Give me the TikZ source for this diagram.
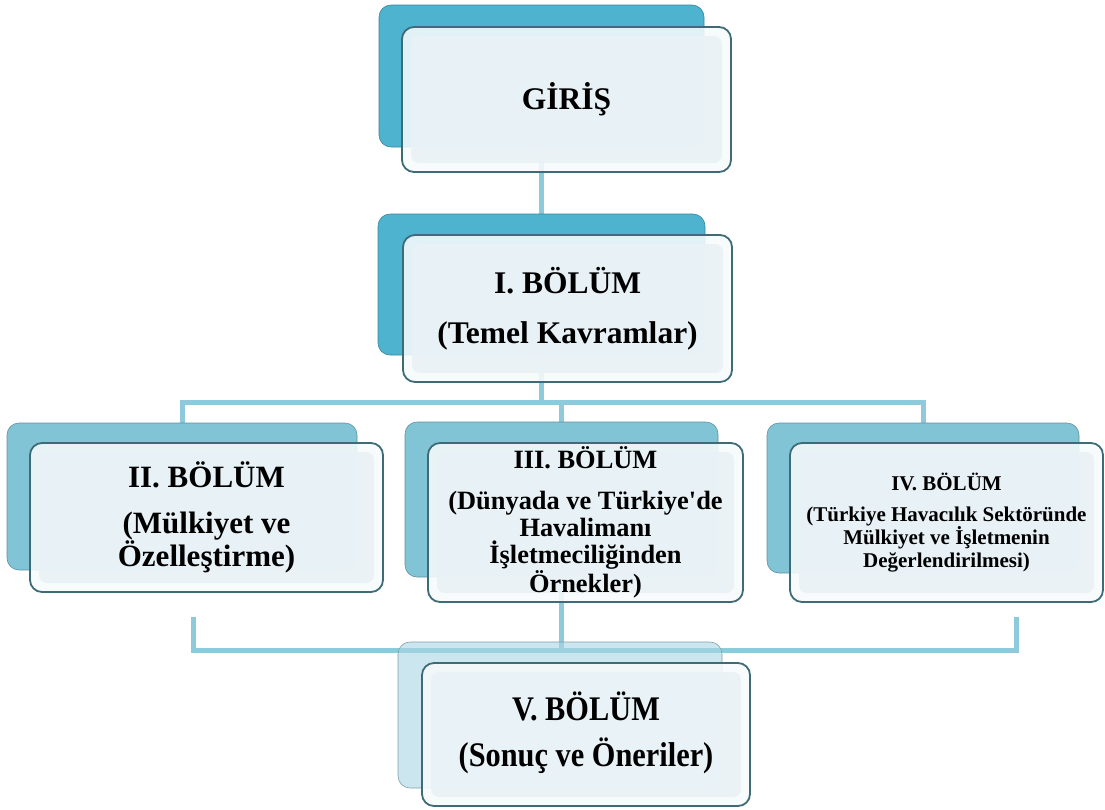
\documentclass[tikz,border=0pt]{standalone}
\usepackage{fontspec}
\setmainfont{Liberation Serif}[Ligatures=TeXOff]
\usepackage{graphicx}
\definecolor{lineC}{HTML}{8ECADB}
\definecolor{bkA}{HTML}{4DB3CF}
\definecolor{bkB}{HTML}{80C4D6}
\definecolor{bkC}{HTML}{A9D6E2}
\definecolor{frBorder}{HTML}{3F6B77}
\definecolor{frOuter}{HTML}{F7FAFB}
\definecolor{frInner}{HTML}{E9F2F6}
\begin{document}
\begin{tikzpicture}[x=1pt,y=-1pt,
  conn/.style={draw=lineC, line width=5pt},
  bkbox/.style={rounded corners=12pt, draw=#1!75!black, line width=0.6pt, fill=#1, inner sep=0pt},
  frbox/.style={rounded corners=12pt, draw=frBorder, line width=1.8pt, fill=frOuter,
    fill opacity=0.88, draw opacity=1, text opacity=1, inner sep=0pt, align=center,
    path picture={\fill[frInner, rounded corners=8pt]
      ([shift={(9pt,-9pt)}]path picture bounding box.north west) rectangle
      ([shift={(-9pt,9pt)}]path picture bounding box.south east);}},
  bigtxt/.style={font=\bfseries\fontsize{31.5}{36}\selectfont},
]
\useasboundingbox (0,0) rectangle (1105,809);

% named positions (boxes defined first, drawn in order below)
\path (541.5,76) coordinate (gBc) (541.5,284.5) coordinate (b1Bc);

% ---- connectors (behind) ----
\coordinate (junc) at (541.5,402);
\coordinate (bl) at (193,617);
\coordinate (blc) at (193,650);
\coordinate (brc) at (1016,650);
\coordinate (brr) at (1016,617);

% back boxes as nodes (invisible first, for anchors)
\path node[minimum width=325pt, minimum height=142pt] (girisB) at (541.5,76) {}
      node[minimum width=327pt, minimum height=141pt] (b1B) at (541.5,284.5) {}
      node[minimum width=350pt, minimum height=147pt] (b2B) at (182,496.5) {}
      node[minimum width=313pt, minimum height=155pt] (b3B) at (561.5,499.5) {}
      node[minimum width=312pt, minimum height=150pt] (b4B) at (923,498) {}
      node[minimum width=324pt, minimum height=146pt] (b5B) at (560,715) {};

\draw[conn] (girisB.south) -- (b1B.north);
\draw[conn] (b1B.south) -- (junc);
\draw[conn] (b2B.north) -- (b2B.north |- junc) -- (b4B.north |- junc) -- (b4B.north);
\draw[conn] (b3B.north) -- (b3B.north |- junc);
\draw[conn] (bl) -- (blc) -- (brc) -- (brr);
\draw[conn] (b3B.south) -- (b3B.south |- blc);

% ---- back boxes ----
\node[bkbox=bkA, minimum width=325pt, minimum height=142pt] (girisBk) at (girisB) {};
\node[bkbox=bkA, minimum width=327pt, minimum height=141pt] (b1Bk) at (b1B) {};
\node[bkbox=bkB, minimum width=350pt, minimum height=147pt] (b2Bk) at (b2B) {};
\node[bkbox=bkB, minimum width=313pt, minimum height=155pt] (b3Bk) at (b3B) {};
\node[bkbox=bkB, minimum width=312pt, minimum height=150pt] (b4Bk) at (b4B) {};
\node[bkbox=bkC, fill opacity=0.6, minimum width=324pt, minimum height=146pt] (b5Bk) at (b5B) {};

% ---- front boxes ----
\node[frbox, bigtxt, minimum width=329pt, minimum height=145pt] (giris) at (566.5,99.5) {GİRİŞ};
\node[frbox, bigtxt, minimum width=329pt, minimum height=147pt] (b1) at (567.5,308.5)
  {I. BÖLÜM\\[14pt](Temel Kavramlar)};
\node[frbox, font=\bfseries\fontsize{31}{30}\selectfont, minimum width=353pt, minimum height=149pt] (b2) at (206.5,517.5)
  {II. BÖLÜM\\[16pt](Mülkiyet ve\\Özelleştirme)};
\node[frbox, font=\bfseries\fontsize{26.4}{27}\selectfont, minimum width=315pt, minimum height=159pt] (b3) at (585.5,522.5)
  {III. BÖLÜM\\[14pt](Dünyada ve Türkiye'de\\Havalimanı\\İşletmeciliğinden\\Örnekler)};
\node[frbox, font=\bfseries\fontsize{21}{23}\selectfont, minimum width=313pt, minimum height=159pt] (b4) at (946.5,522.5)
  {IV. BÖLÜM\\[8pt](Türkiye Havacılık Sektöründe\\Mülkiyet ve İşletmenin\\Değerlendirilmesi)};
\node[frbox, font=\bfseries\fontsize{34.5}{38}\selectfont, minimum width=328pt, minimum height=143pt] (b5) at (586,734.5)
  {\scalebox{0.88}[1]{\begin{tabular}{@{}c@{}}V. BÖLÜM\\[6pt](Sonuç ve Öneriler)\end{tabular}}};
\end{tikzpicture}
\end{document}
